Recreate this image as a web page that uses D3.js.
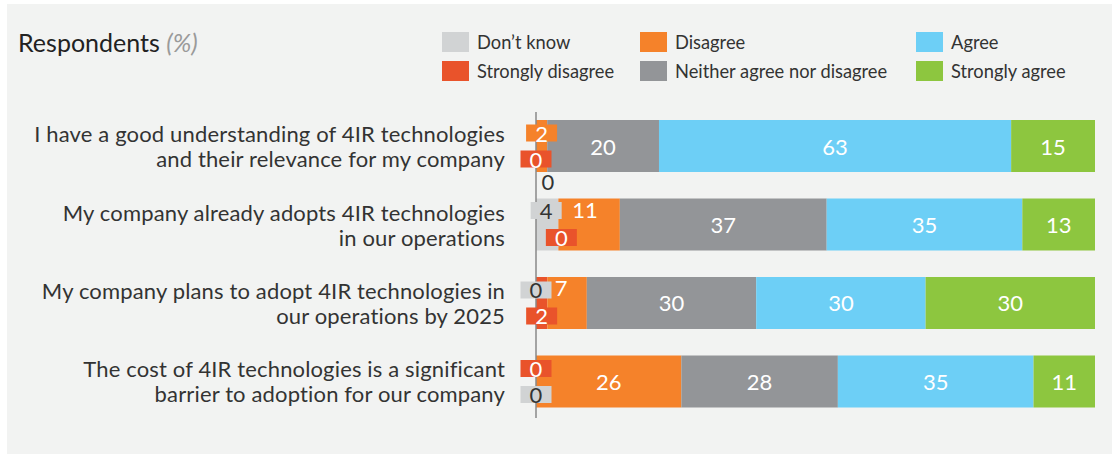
<!DOCTYPE html>
<html>
<head>
<meta charset="utf-8">
<script src="https://cdn.jsdelivr.net/npm/d3@7"></script>
<style>
  body { margin: 0; background: #fff; font-family: Lato, "Open Sans", sans-serif; }
  .seg-label { font-size: 22px; }
  .cat { font-size: 22px; fill: #333; letter-spacing: 0.15px; }
  .legend text { font-size: 18.3px; fill: #333; }
</style>
</head>
<body>
<div id="chart"></div>
<script>
// chart values
var categories = [
    ["I have a good understanding of 4IR technologies", "and their relevance for my company"],
    ["My company already adopts 4IR technologies", "in our operations"],
    ["My company plans to adopt 4IR technologies in", "our operations by 2025"],
    ["The cost of 4IR technologies is a significant", "barrier to adoption for our company"]
];
var seriesNames = ["Don\u2019t know", "Strongly disagree", "Disagree", "Neither agree nor disagree", "Agree", "Strongly agree"];
var dontKnow = [0, 4, 0, 0];
var stronglyDisagree = [0, 0, 2, 0];
var disagree = [2, 11, 7, 26];
var neither = [20, 37, 30, 28];
var agree = [63, 35, 30, 35];
var stronglyAgree = [15, 13, 30, 11];

var colors = ["#d1d3d4", "#e9532b", "#f5822a", "#939598", "#6dcff6", "#8dc63f"];
// legend order (column-wise, two rows)
var legendOrder = [0, 2, 4, 1, 3, 5];

// where the labels of thin segments go: [dx, dy, boxed]
var nudges = {
    "0|0": [12, 35, false], "0|1": [0, 13, true], "0|2": [0, -13, true],
    "1|0": [-1, -14, true], "1|1": [3, 13, true], "1|2": [-4, -15, false],
    "2|0": [0, -13, true], "2|1": [0, 13, true], "2|2": [-6, -15, false],
    "3|0": [0, 13, true], "3|1": [0, -13, true]
};

var width = 1113, height = 455;

var rows = categories.map(function (c, i) {
    return {
        i: i, cat: c,
        s0: dontKnow[i], s1: stronglyDisagree[i], s2: disagree[i],
        s3: neither[i], s4: agree[i], s5: stronglyAgree[i]
    };
});
var keys = ["s0", "s1", "s2", "s3", "s4", "s5"];
// 100% stacked: each row fills the full width
var stacked = d3.stack().keys(keys).offset(d3.stackOffsetExpand)(rows);

var svg = d3.select("#chart")
    .append("svg")
    .attr("width", width)
    .attr("height", height);

// panel
svg.append("rect")
    .attr("x", 7).attr("y", 4)
    .attr("width", 1105).attr("height", 450)
    .attr("fill", "#f2f3f2");

var xScale = d3.scaleLinear()
    .domain([0, 1])
    .range([536, 1095]);

var yScale = d3.scaleBand()
    .domain(d3.range(categories.length))
    .range([93.5, 434])
    .padding(0.3376);

// title
var title = svg.append("text")
    .attr("x", 18).attr("y", 52)
    .style("font-size", "25px")
    .attr("fill", "#222");
title.append("tspan").text("Respondents ");
title.append("tspan").attr("fill", "#9a9a9a").style("font-style", "italic").text("(%)");

// legend
var legend = svg.append("g").attr("class", "legend");
var legendX = [442, 640, 916], legendY = [32, 61];
legendOrder.forEach(function (s, k) {
    var col = k % 3, row = Math.floor(k / 3);
    var g = legend.append("g")
        .attr("transform", "translate(" + legendX[col] + "," + legendY[row] + ")");
    g.append("rect").attr("width", 27).attr("height", 20).attr("fill", colors[s]);
    g.append("text").attr("x", 35).attr("y", 17).text(seriesNames[s]);
});

// bars
var layers = svg.selectAll(".layer")
    .data(stacked)
    .enter().append("g")
    .attr("class", "layer")
    .attr("fill", function (d, i) { return colors[i]; });

layers.selectAll("rect")
    .data(function (d) { return d; })
    .enter().append("rect")
    .attr("x", function (d) { return xScale(d[0]); })
    .attr("y", function (d) { return yScale(d.data.i); })
    .attr("width", function (d) { return xScale(d[1]) - xScale(d[0]); })
    .attr("height", yScale.bandwidth());

// axis line
svg.append("line")
    .attr("x1", xScale(0)).attr("x2", xScale(0))
    .attr("y1", 112).attr("y2", 418)
    .attr("stroke", "#888").attr("stroke-width", 1.5);

// category labels
categories.forEach(function (c, i) {
    var cy = yScale(i) + yScale.bandwidth() / 2;
    var t = svg.append("text").attr("class", "cat").attr("text-anchor", "end");
    c.forEach(function (line, j) {
        t.append("tspan").attr("x", 505).attr("y", cy - 4 + j * 25).text(line);
    });
});

// segment labels
var labels = svg.append("g");
stacked.forEach(function (layer, s) {
    layer.forEach(function (d) {
        var i = d.data.i;
        var cx = (xScale(d[0]) + xScale(d[1])) / 2;
        var cy = yScale(i) + yScale.bandwidth() / 2;
        var n = nudges[i + "|" + s];
        var boxed = false;
        if (n) { cx += n[0]; cy += n[1]; boxed = n[2]; }
        var textColor = (s === 0) ? "#333" : "#fff";
        if (boxed) {
            labels.append("rect")
                .attr("x", cx - 15.5).attr("y", cy - 8.5)
                .attr("width", 31).attr("height", 17)
                .attr("fill", colors[s]);
        }
        labels.append("text")
            .attr("class", "seg-label")
            .attr("x", cx).attr("y", cy)
            .attr("text-anchor", "middle")
            .attr("dominant-baseline", "central")
            .attr("fill", textColor)
            .text(d.data[keys[s]]);
    });
});
</script>
</body>
</html>
